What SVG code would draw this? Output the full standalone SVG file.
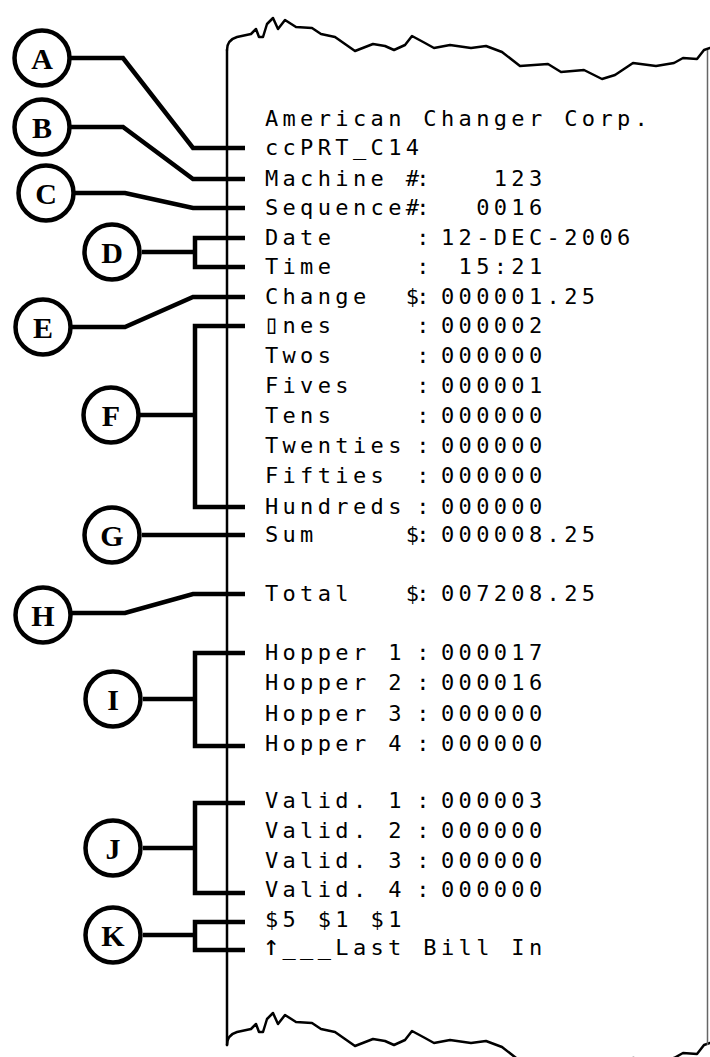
<svg xmlns="http://www.w3.org/2000/svg" xmlns:xlink="http://www.w3.org/1999/xlink" width="710" height="1057" viewBox="0 0 710 1057">
<style>
.t { font-family: "DejaVu Sans Mono", "Liberation Mono", monospace; font-size: 22px; letter-spacing: 4.36px; white-space: pre; fill: #000; }
.big { font-size: 26px; letter-spacing: 0px; }
.arr { font-size: 28px; letter-spacing: 0px; }
.lbl { font-family: "Liberation Serif", "Times New Roman", serif; font-weight: bold; font-size: 30px; text-anchor: middle; fill: #000; }
.c { fill: #fff; stroke: #000; stroke-width: 4.5; }
.ln { fill: none; stroke: #000; stroke-width: 4.5; stroke-linejoin: miter; }
.edge { fill: none; stroke: #000; stroke-width: 2.5; stroke-linejoin: round; stroke-linecap: round; }
.redge { fill: none; stroke: #666; stroke-width: 1.5; }
</style>
<defs>
<path id="wave" d="M227,50 Q227,40 237,37 L251,34 L256,29 L259,37 L263,37 L267,24 L273,18 L278,29 L285,20 L296,27 L312,28 L321,34 L335,37 L355,51 L373,44 L385,46 L394,50 L405,45 L412,36 L425,43 L434,48 L450,45 L471,48 L486,46 L502,52 L520,66 L548,64 L561,72 L584,70 L602,79 L615,75 L633,63 L656,66 L674,63 L683,58 L697,59 L704,50 L710,48"/>
</defs>
<rect x="0" y="0" width="710" height="1057" fill="#fff"/>
<g id="receipt">
<use xlink:href="#wave" class="edge"/>
<use xlink:href="#wave" class="edge" transform="translate(0,995)"/>
<path class="edge" d="M227,50 V1045"/>
<path class="redge" d="M707.5,50 V1045"/>
<g id="receipt-text">
<text class="t" x="264.9" y="126">American Changer Corp.</text>
<text class="t" x="264.9" y="155">ccPRT_C14</text>
<text class="t" x="264.9" y="186">Machine #<tspan dx="-7">:</tspan><tspan dx="7">   123</tspan></text>
<text class="t" x="264.9" y="215">Sequence#<tspan dx="-7">:</tspan><tspan dx="7">  0016</tspan></text>
<text class="t" x="264.9" y="245">Date     <tspan dx="-7">:</tspan><tspan dx="7">12-DEC-2006</tspan></text>
<text class="t" x="264.9" y="274">Time     <tspan dx="-7">:</tspan><tspan dx="7"> 15:21</tspan></text>
<text class="t" x="264.9" y="304">Change  $<tspan dx="-7">:</tspan><tspan dx="7">000001.25</tspan></text>
<text class="t" x="264.9" y="333"><tspan class="big" dx="-1.21">▯</tspan><tspan dx="3.16">nes     </tspan><tspan dx="-7">:</tspan><tspan dx="7">000002</tspan></text>
<text class="t" x="264.9" y="363">Twos     <tspan dx="-7">:</tspan><tspan dx="7">000000</tspan></text>
<text class="t" x="264.9" y="393">Fives    <tspan dx="-7">:</tspan><tspan dx="7">000001</tspan></text>
<text class="t" x="264.9" y="423">Tens     <tspan dx="-7">:</tspan><tspan dx="7">000000</tspan></text>
<text class="t" x="264.9" y="453">Twenties <tspan dx="-7">:</tspan><tspan dx="7">000000</tspan></text>
<text class="t" x="264.9" y="483">Fifties  <tspan dx="-7">:</tspan><tspan dx="7">000000</tspan></text>
<text class="t" x="264.9" y="514">Hundreds <tspan dx="-7">:</tspan><tspan dx="7">000000</tspan></text>
<text class="t" x="264.9" y="542">Sum     $<tspan dx="-7">:</tspan><tspan dx="7">000008.25</tspan></text>
<text class="t" x="264.9" y="601">Total   $<tspan dx="-7">:</tspan><tspan dx="7">007208.25</tspan></text>
<text class="t" x="264.9" y="660">Hopper 1 <tspan dx="-7">:</tspan><tspan dx="7">000017</tspan></text>
<text class="t" x="264.9" y="690">Hopper 2 <tspan dx="-7">:</tspan><tspan dx="7">000016</tspan></text>
<text class="t" x="264.9" y="721">Hopper 3 <tspan dx="-7">:</tspan><tspan dx="7">000000</tspan></text>
<text class="t" x="264.9" y="751">Hopper 4 <tspan dx="-7">:</tspan><tspan dx="7">000000</tspan></text>
<text class="t" x="264.9" y="808">Valid. 1 <tspan dx="-7">:</tspan><tspan dx="7">000003</tspan></text>
<text class="t" x="264.9" y="838">Valid. 2 <tspan dx="-7">:</tspan><tspan dx="7">000000</tspan></text>
<text class="t" x="264.9" y="868">Valid. 3 <tspan dx="-7">:</tspan><tspan dx="7">000000</tspan></text>
<text class="t" x="264.9" y="897">Valid. 4 <tspan dx="-7">:</tspan><tspan dx="7">000000</tspan></text>
<text class="t" x="264.9" y="927">$5 $1 $1</text>
<text class="t" x="264.9" y="955"><tspan class="arr" dx="-1.81">↑</tspan><tspan dx="2.55">___Last Bill In</tspan></text>
</g>
</g>
<g id="connectors">
<path class="ln" d="M71,58 H123 L193,148 H245"/>
<path class="ln" d="M71,127 H123 L193,179 H245"/>
<path class="ln" d="M75,193 H125 L193,208 H245"/>
<path class="ln" d="M142,252 H195 M245,238 H195 V267 H245"/>
<path class="ln" d="M72,327 H125 L193,297 H245"/>
<path class="ln" d="M140,415 H195 M245,326 H195 V507 H245"/>
<path class="ln" d="M142,535 H245"/>
<path class="ln" d="M72,613 H125 L193,594 H245"/>
<path class="ln" d="M143,699 H195 M245,653 H195 V746 H245"/>
<path class="ln" d="M143,848 H195 M245,803 H195 V893 H245"/>
<path class="ln" d="M143,935 H195 M245,922 H195 V950 H245"/>
</g>
<g id="node-A"><circle class="c" cx="42" cy="58" r="27.5"/><text class="lbl" x="42" y="68.5">A</text></g>
<g id="node-B"><circle class="c" cx="42" cy="127" r="27.5"/><text class="lbl" x="42" y="137.5">B</text></g>
<g id="node-C"><circle class="c" cx="46" cy="193" r="27.5"/><text class="lbl" x="46" y="203.5">C</text></g>
<g id="node-D"><circle class="c" cx="112" cy="252" r="27.5"/><text class="lbl" x="112" y="262.5">D</text></g>
<g id="node-E"><circle class="c" cx="43" cy="327" r="27.5"/><text class="lbl" x="43" y="337.5">E</text></g>
<g id="node-F"><circle class="c" cx="111" cy="415" r="27.5"/><text class="lbl" x="111" y="425.5">F</text></g>
<g id="node-G"><circle class="c" cx="112" cy="535" r="27.5"/><text class="lbl" x="112" y="545.5">G</text></g>
<g id="node-H"><circle class="c" cx="43" cy="615" r="27.5"/><text class="lbl" x="43" y="625.5">H</text></g>
<g id="node-I"><circle class="c" cx="113" cy="699" r="27.5"/><text class="lbl" x="113" y="709.5">I</text></g>
<g id="node-J"><circle class="c" cx="113" cy="848" r="27.5"/><text class="lbl" x="113" y="858.5">J</text></g>
<g id="node-K"><circle class="c" cx="113" cy="935" r="27.5"/><text class="lbl" x="113" y="945.5">K</text></g>
</svg>
